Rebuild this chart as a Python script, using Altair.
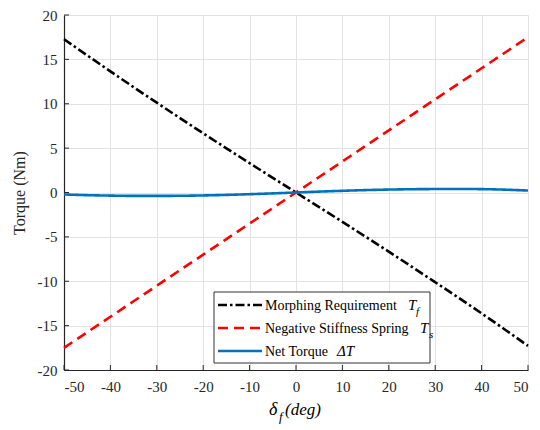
import altair as alt
import pandas as pd

# data
deg = [-50, -45, -40, -35, -30, -25, -20, -15, -10, -5, 0, 5, 10, 15, 20, 25, 30, 35, 40, 45, 50]
ts = [-17.5, -15.75, -14.0, -12.25, -10.5, -8.75, -7.0, -5.25, -3.5, -1.75, 0.0,
      1.75, 3.5, 5.25, 7.0, 8.75, 10.5, 12.25, 14.0, 15.75, 17.5]
net = [-0.22, -0.30, -0.35, -0.38, -0.38, -0.37, -0.33, -0.27, -0.19, -0.10, 0.0,
       0.10, 0.19, 0.27, 0.33, 0.37, 0.39, 0.40, 0.38, 0.32, 0.22]
tf = [17.28, 15.45, 13.65, 11.87, 10.12, 8.38, 6.67, 4.98, 3.31, 1.65, 0.0,
      -1.65, -3.31, -4.98, -6.67, -8.38, -10.11, -11.85, -13.62, -15.43, -17.28]
series_names = ["Morphing Requirement", "Negative Stiffness Spring", "Net Torque"]
series_symbols = [("T", "f"), ("T", "s"), ("ΔT", "")]
series_colors = ["#000000", "#FF0000", "#0072BD"]
series_dash = [[9, 3, 2.5, 3], [10, 6], [1, 0]]
x_ticks = [-50, -40, -30, -20, -10, 0, 10, 20, 30, 40, 50]
y_ticks = [-20, -15, -10, -5, 0, 5, 10, 15, 20]

rows = []
for name, vals in zip(series_names, [tf, ts, net]):
    for d, v in zip(deg, vals):
        rows.append({"deg": d, "torque": v, "series": name})
df = pd.DataFrame(rows)

W, H = 464, 355
FONT = "Liberation Serif"
TXT = "#262626"

xscale = alt.Scale(domain=[-50, 50], nice=False)
yscale = alt.Scale(domain=[-20, 20], nice=False)

lines = alt.Chart(df).mark_line(strokeWidth=2.6, interpolate="monotone").encode(
    x=alt.X("deg:Q", scale=xscale,
            axis=alt.Axis(values=x_ticks, title=None, ticks=False, labelPadding=9,
                          labelExpr="toString(datum.value)", labelFont=FONT, labelFontSize=15,
                          labelColor=TXT, domainColor=TXT)),
    y=alt.Y("torque:Q", scale=yscale,
            axis=alt.Axis(values=y_ticks, title="Torque (Nm)", ticks=False, labelPadding=7,
                          labelExpr="toString(datum.value)", labelFont=FONT, labelFontSize=15,
                          labelColor=TXT, titlePadding=10, titleFont=FONT, titleFontSize=16,
                          titleColor=TXT, titleFontWeight="normal", domainColor=TXT)),
    color=alt.Color("series:N", sort=series_names,
                    scale=alt.Scale(domain=series_names, range=series_colors), legend=None),
    strokeDash=alt.StrokeDash("series:N", sort=series_names,
                              scale=alt.Scale(domain=series_names, range=series_dash),
                              legend=None),
    order=alt.Order("deg:Q"),
)

xt = pd.DataFrame({"v": x_ticks})
yt = pd.DataFrame({"v": y_ticks})
xtick_layer = alt.Chart(xt).mark_rule(color=TXT, strokeWidth=1).encode(
    x=alt.X("v:Q", scale=xscale), y=alt.value(H), y2=alt.value(H - 5))
ytick_layer = alt.Chart(yt).mark_rule(color=TXT, strokeWidth=1).encode(
    y=alt.Y("v:Q", scale=yscale), x=alt.value(0), x2=alt.value(5))

one = pd.DataFrame({"a": [0]})


def txt(s, x, y, size=14, italic=False):
    return alt.Chart(one).mark_text(
        text=s, font=FONT, fontSize=size, color="#000", align="left", baseline="alphabetic",
        fontStyle="italic" if italic else "normal",
    ).encode(x=alt.value(x), y=alt.value(y))


# x-axis title: delta_f (deg)
xtitle = [txt("δ", 205, 400, 18, True), txt("f", 215, 406, 13, True), txt("(deg)", 221, 400, 17, True)]

# legend (box, symbols, labels)
LX0, LX1, LY0, LY1 = 150, 366, 277, 348
legend_box = alt.Chart(one).mark_rect(fill="white", stroke="#333", strokeWidth=1).encode(
    x=alt.value(LX0), x2=alt.value(LX1), y=alt.value(LY0), y2=alt.value(LY1))
legend_layers = [legend_box]
row_y = [290, 313, 336]
sym_x = [[344, 352], [356, 365], [273, 0]]
for i, name in enumerate(series_names):
    legend_layers.append(
        alt.Chart(one).mark_rule(color=series_colors[i], strokeWidth=2.6,
                                 strokeDash=series_dash[i]).encode(
            x=alt.value(154), x2=alt.value(198), y=alt.value(row_y[i]))
    )
    legend_layers.append(txt(name, 201, row_y[i] + 5, 14))
    big, sub = series_symbols[i]
    legend_layers.append(txt(big, sym_x[i][0], row_y[i] + 5, 15, True))
    if sub:
        legend_layers.append(txt(sub, sym_x[i][1], row_y[i] + 10, 11, True))

chart = alt.layer(lines, xtick_layer, ytick_layer, *xtitle, *legend_layers).properties(
    width=W, height=H,
    autosize=alt.AutoSizeParams(type="none"),
    padding={"left": 56, "top": 7, "right": 4, "bottom": 60},
).configure_axis(
    gridColor="#e3e3e3", gridWidth=1, domainWidth=1.2,
).configure_view(stroke=None)

chart.save("out.html", embed_options={"renderer": "svg", "actions": False})
